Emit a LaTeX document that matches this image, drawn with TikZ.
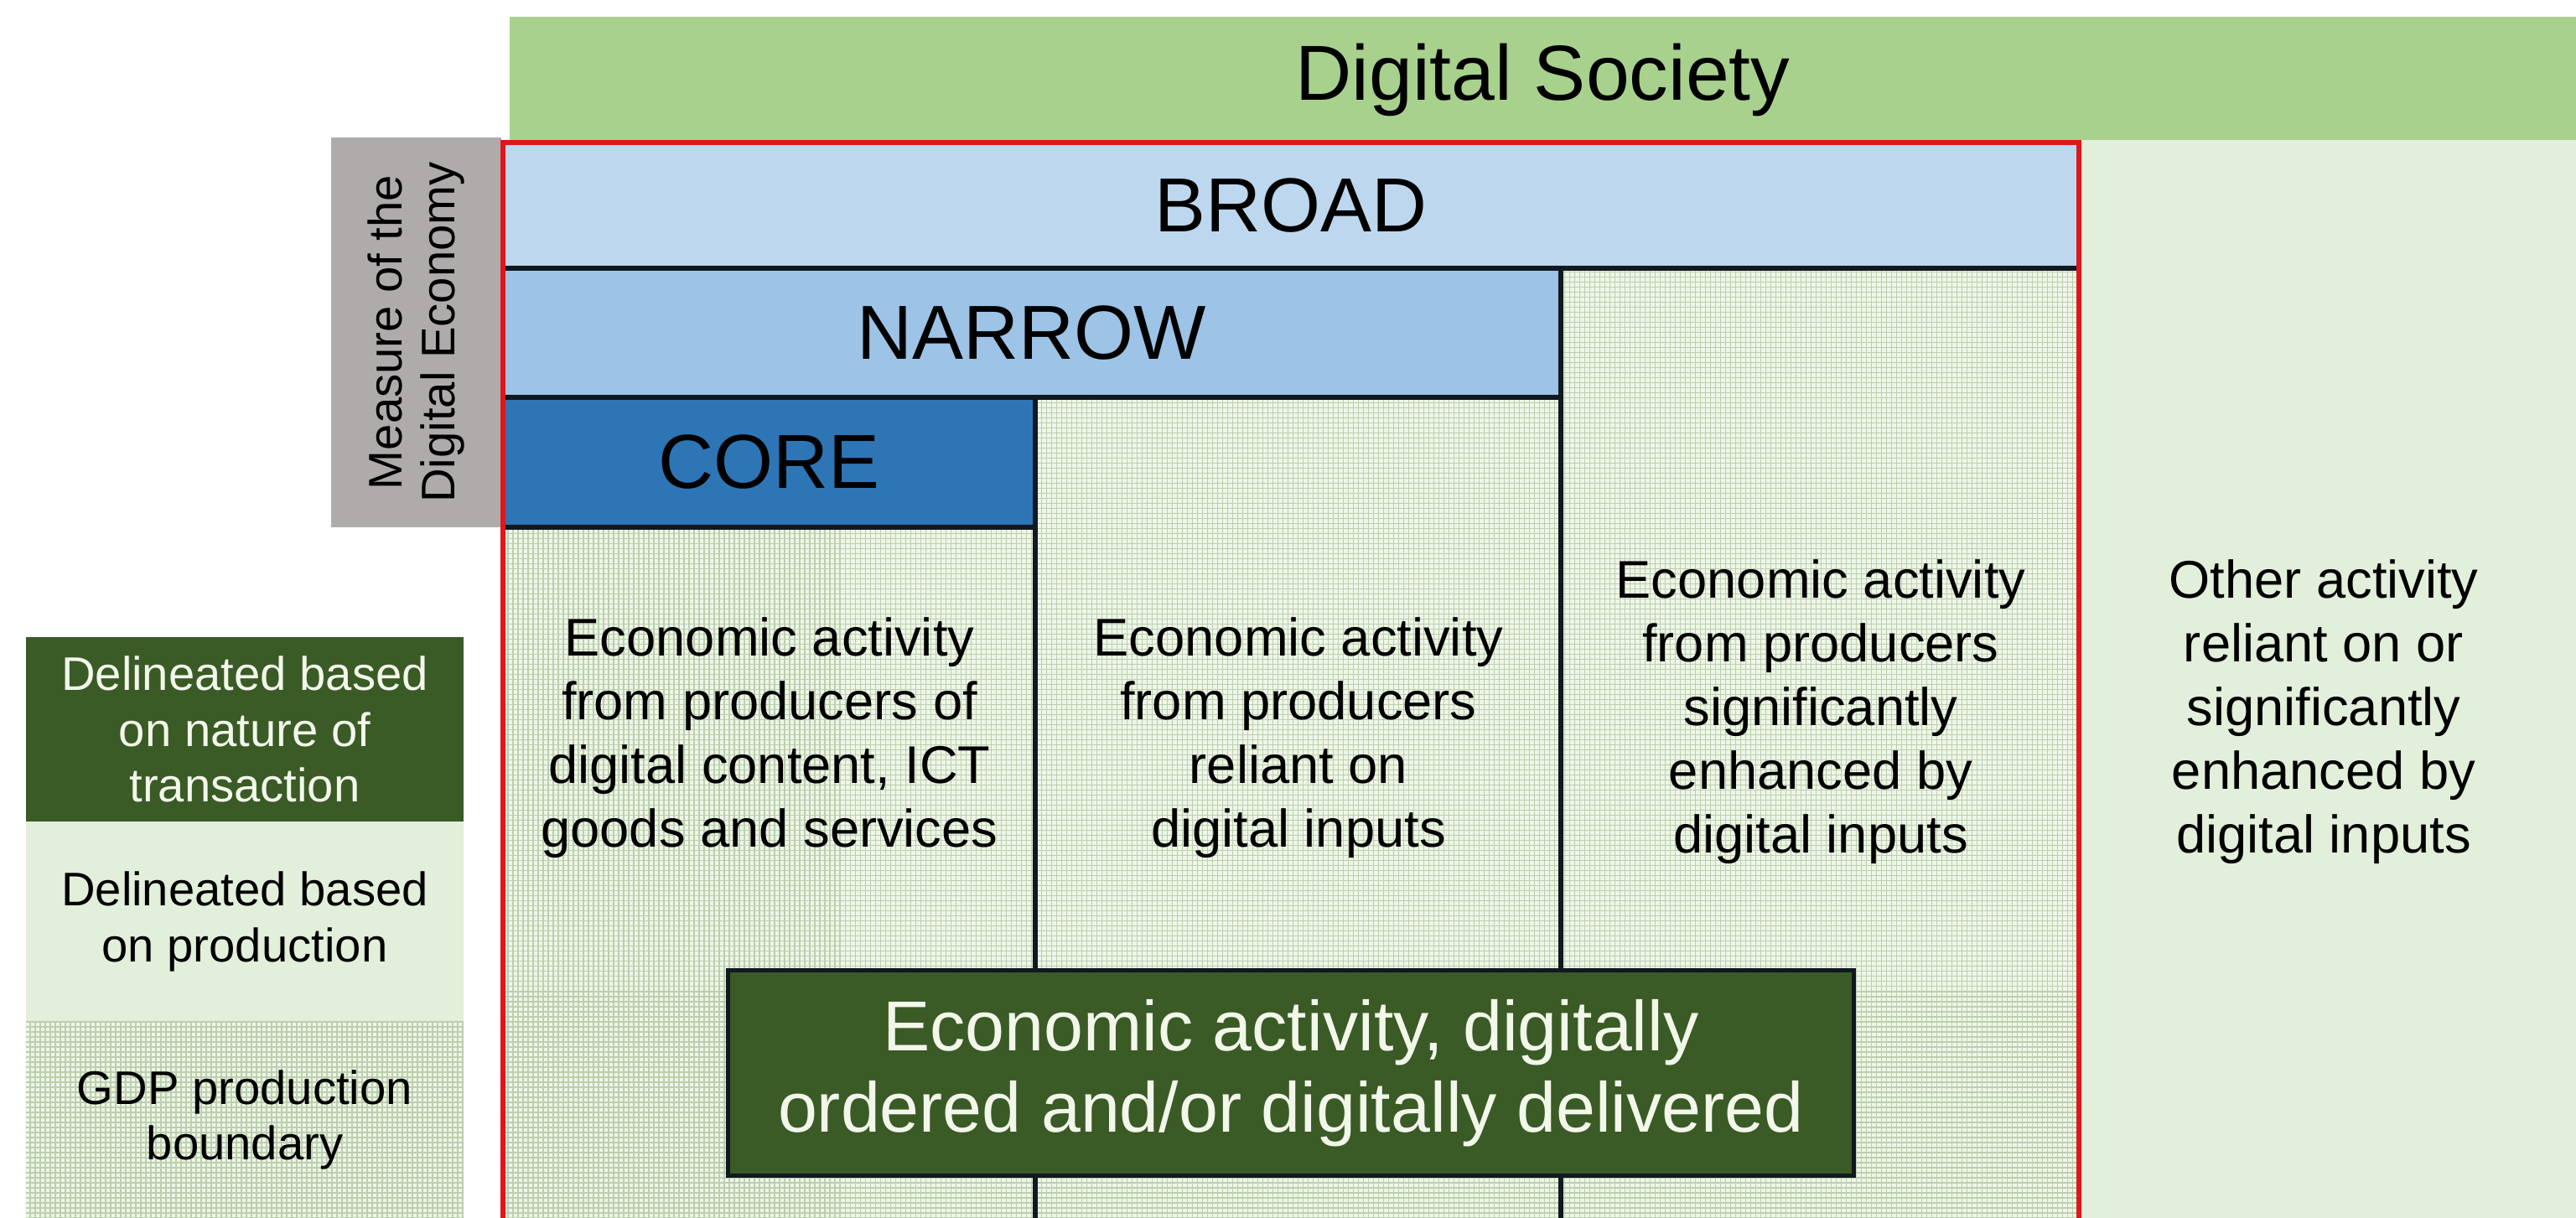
\documentclass[tikz,border=0pt]{standalone}
\usepackage{fontspec}
\setmainfont{Liberation Sans}
\usetikzlibrary{positioning,patterns}

\definecolor{socgreen}{HTML}{A9D18E}
\definecolor{prodgreen}{HTML}{E2EFDA}
\definecolor{transgreen}{HTML}{3A5A26}
\definecolor{paletext}{HTML}{F2F7EA}
\definecolor{broadblue}{HTML}{BDD7EE}
\definecolor{narrowblue}{HTML}{9DC3E6}
\definecolor{coreblue}{HTML}{2E75B6}
\definecolor{measgray}{HTML}{AFABAB}
\definecolor{sepline}{HTML}{101820}
\definecolor{framered}{HTML}{E0161B}
\definecolor{gdpbg}{HTML}{EEF6E8}
\definecolor{gdpline}{HTML}{BCCFAE}

% fine grid used for the GDP production boundary
\pgfdeclarepatternformonly{gdpgrid}{\pgfqpoint{-0.5pt}{-0.5pt}}{\pgfqpoint{2.2pt}{2.2pt}}{\pgfqpoint{1.7072pt}{1.7072pt}}{%
  \pgfsetlinewidth{0.3pt}
  \pgfpathmoveto{\pgfqpoint{0pt}{0pt}}\pgfpathlineto{\pgfqpoint{1.8pt}{0pt}}
  \pgfpathmoveto{\pgfqpoint{0pt}{0pt}}\pgfpathlineto{\pgfqpoint{0pt}{1.8pt}}
  \pgfusepath{stroke}}

\begin{document}
\begin{tikzpicture}[
    band box/.style = {draw=sepline, line width=1.5pt, anchor=north west, inner sep=0pt, outer sep=0pt, font=\fontsize{26}{30}\selectfont},
    col text/.style = {align=center, text=black, font=\fontsize{18}{21.6}\selectfont},
    leg box/.style = {minimum width=5.22cm, inner sep=0pt, outer sep=0pt, align=center, font=\fontsize{16}{19}\selectfont},
    gdp fill/.style = {fill=gdpbg, postaction={pattern=gdpgrid, pattern color=gdpline}}]
    \useasboundingbox (0,0) rectangle (30.73,14.53);
    \coordinate (base) at (0,0);

    % digital society and the activity outside the measure
    \node[fill=socgreen, anchor=north west, minimum width=24.65cm, minimum height=1.5cm, inner sep=0pt, outer sep=0pt, font=\fontsize{26.5}{30}\selectfont] (society) at (6.08,14.33) {Digital Society};
    \fill[prodgreen] (24.8,0) rectangle (30.73,12.86);
    \node[col text] (other) at (27.72,6.04) {Other activity\\reliant on or\\significantly\\enhanced by\\digital inputs};

    % measure of the digital economy
    \fill[gdp fill] (6,0) rectangle (24.8,12.83);
    \node[band box, fill=broadblue, minimum width=18.8cm, minimum height=1.5cm] (broad) at (6,12.83) {BROAD};
    \node[band box, fill=narrowblue, minimum width=12.62cm, minimum height=1.54cm] (narrow) at (broad.south west) {NARROW};
    \node[band box, fill=coreblue, minimum width=6.35cm, minimum height=1.55cm] (core) at (narrow.south west) {CORE};
    \draw[sepline, line width=1.5pt] (core.south east) -- (core.south east |- base);
    \draw[sepline, line width=1.5pt] (narrow.south east) -- (narrow.south east |- base);

    \node[col text] (prodict) at (9.18,5.73) {Economic activity\\from producers of\\digital content, ICT\\goods and services};
    \node[col text] (reliant) at (15.49,5.73) {Economic activity\\from producers\\reliant on\\digital inputs};
    \node[col text] (enhanced) at (21.72,6.04) {Economic activity\\from producers\\significantly\\enhanced by\\digital inputs};

    \node[fill=measgray, rotate=90, minimum width=4.65cm, minimum height=2.03cm, inner sep=0pt, align=center, font=\fontsize{16}{18}\selectfont] (measure) at (4.965,10.565) {Measure of the\\Digital Economy};
    \draw[framered, line width=1.8pt] (6,-0.05) rectangle (24.8,12.83);

    \node[fill=transgreen, draw=sepline, line width=1.5pt, minimum width=13.43cm, minimum height=2.45cm, text=paletext, align=center, font=\fontsize{24}{27.6}\selectfont] (digorder) at (15.40,1.73) {Economic activity, digitally\\ordered and/or digitally delivered};

    % legend
    \node[leg box, fill=transgreen, text=paletext, minimum height=2.2cm, anchor=north west] (legtrans) at (0.31,6.93) {Delineated based\\on nature of\\transaction};
    \node[leg box, fill=prodgreen, minimum height=2.39cm, anchor=north] (legprod) at (legtrans.south) {Delineated based\\on production};
    \node[leg box, gdp fill, minimum height=2.34cm, anchor=north] (leggdp) at (legprod.south) {GDP production\\boundary};
\end{tikzpicture}
\end{document}
